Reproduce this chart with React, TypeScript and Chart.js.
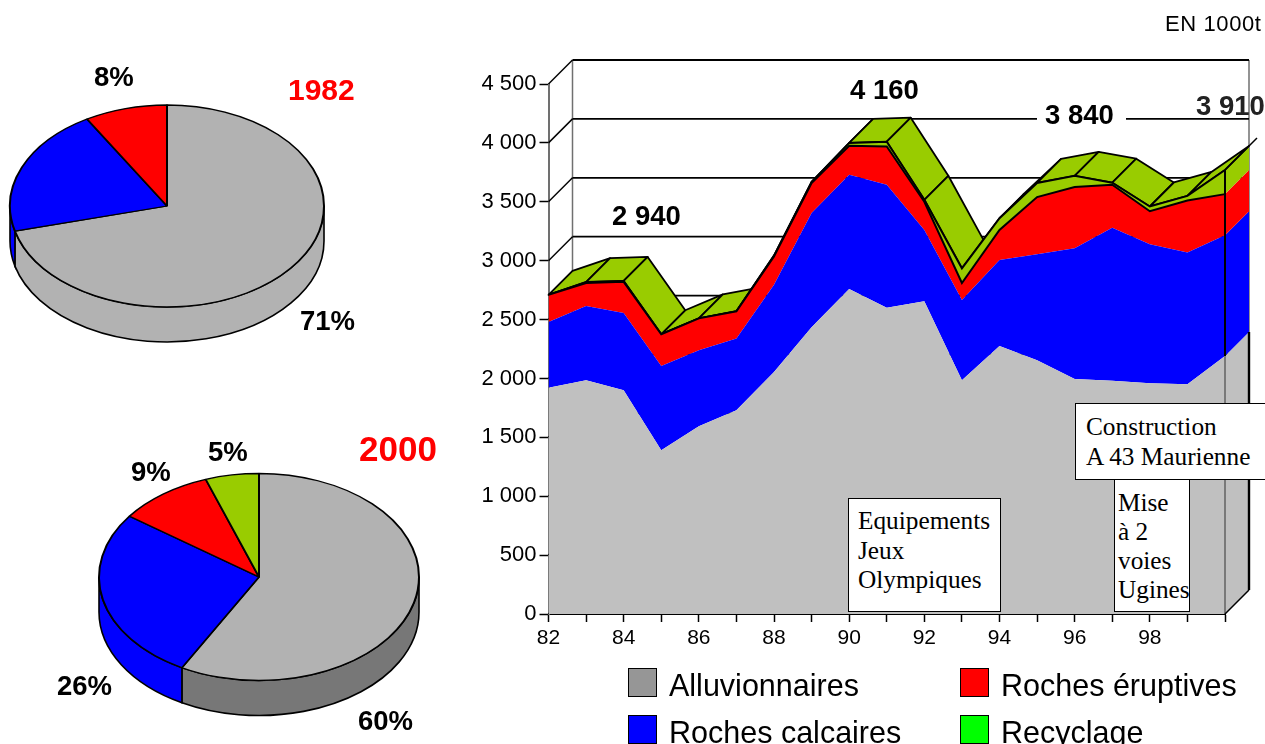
import React, { useEffect, useRef } from "react";
import { Chart, registerables } from "chart.js";

Chart.register(...registerables);

const years = ["82","83","84","85","86","87","88","89","90","91","92","93","94","95","96","97","98","99","100"];
const alluvionnaires = [1920,1985,1900,1390,1595,1730,2055,2435,2760,2600,2655,1985,2275,2155,1995,1980,1960,1950,2190];
const rochesCalcaires = [560,630,655,715,645,610,740,970,970,1045,605,680,730,900,1110,1300,1180,1120,1025];
const rochesEruptives = [230,195,265,270,270,230,240,255,245,325,240,145,255,485,520,365,280,440,350];
const recyclage = [0,8,8,0,0,0,8,8,25,40,17,125,100,120,95,17,40,40,205];

const pie1982Values = [71, 20.5, 8.5];
const pie2000Values = [58, 27, 9.6, 5.4];

const GRAY_AREA = "#c0c0c0";
const BLUE = "#0000ff";
const RED = "#ff0000";
const OLIVE = "#99cc00";
const PIE_GRAY = "#b2b2b2";
const SANS = '"Liberation Sans", Arial, sans-serif';
const SERIF = '"Liberation Serif", "Times New Roman", serif';
const DEPTH = 24;

type PieProps = { values: number[]; colors: string[]; sides: string[]; rx: number; ry: number; depth: number; left: number; top: number; size: number };

function Pie3D({ values, colors, sides, rx, ry, depth, left, top, size }: PieProps) {
  const ref = useRef<HTMLCanvasElement>(null);
  useEffect(() => {
    const squash = {
      id: "squash",
      beforeDatasetsDraw(chart: any) {
        const ctx = chart.ctx;
        const arcs = chart.getDatasetMeta(0).data;
        const cx = arcs[0].x;
        const cy = arcs[0].y;
        ctx.save();
        ctx.lineWidth = 1.6;
        ctx.strokeStyle = "#000";
        arcs.forEach((arc: any, i: number) => {
          for (const k of [-2, 0, 2]) {
            const a = Math.max(arc.startAngle, k * Math.PI);
            const b = Math.min(arc.endAngle, k * Math.PI + Math.PI);
            if (b <= a) continue;
            ctx.beginPath();
            ctx.ellipse(cx, cy, rx, ry, 0, a, b);
            ctx.ellipse(cx, cy + depth, rx, ry, 0, b, a, true);
            ctx.closePath();
            ctx.fillStyle = sides[i];
            ctx.fill();
            ctx.stroke();
          }
        });
        ctx.restore();
        ctx.save();
        ctx.translate(cx, cy);
        ctx.scale(1, ry / rx);
        ctx.translate(-cx, -cy);
      },
      afterDatasetsDraw(chart: any) {
        chart.ctx.restore();
      },
    };
    const chart = new Chart(ref.current as HTMLCanvasElement, {
      type: "pie",
      data: { labels: colors.map((_, i) => String(i)), datasets: [{ data: values, backgroundColor: colors, borderColor: "#000", borderWidth: 2 }] },
      options: {
        animation: false,
        responsive: false,
        radius: rx,
        layout: { padding: 0 },
        plugins: { legend: { display: false }, tooltip: { enabled: false } },
      } as any,
      plugins: [squash],
    });
    return () => chart.destroy();
  }, []);
  return <canvas ref={ref} width={size} height={size} style={{ position: "absolute", left, top, width: size, height: size }} />;
}

function AreaChart() {
  const ref = useRef<HTMLCanvasElement>(null);
  useEffect(() => {
    const cumulative = (i: number, layers: number) =>
      [alluvionnaires, rochesCalcaires, rochesEruptives, recyclage].slice(0, layers).reduce((s, a) => s + a[i], 0);

    const depthPlugin = {
      id: "depth",
      beforeDatasetsDraw(chart: any) {
        const ctx = chart.ctx;
        const x = chart.scales.x;
        const y = chart.scales.y;
        const x0 = x.getPixelForValue(0);
        const last = years.length - 1;
        const x1 = x.getPixelForValue(last);
        const yTop = y.getPixelForValue(4500);
        const yBase = y.getPixelForValue(0);
        ctx.save();
        ctx.lineCap = "butt";
        // back wall frame
        ctx.strokeStyle = "#707070";
        ctx.lineWidth = 1.5;
        ctx.beginPath();
        ctx.moveTo(x0 + DEPTH, yTop - DEPTH);
        ctx.lineTo(x0 + DEPTH, yBase - DEPTH);
        ctx.moveTo(x1 + DEPTH, yTop - DEPTH);
        ctx.lineTo(x1 + DEPTH, yBase - DEPTH);
        ctx.stroke();
        // gridlines, side wall and back wall
        ctx.strokeStyle = "#000";
        for (const tick of y.ticks) {
          const py = y.getPixelForValue(tick.value);
          ctx.lineWidth = 1.5;
          ctx.beginPath();
          ctx.moveTo(x0, py);
          ctx.lineTo(x0 + DEPTH, py - DEPTH);
          ctx.stroke();
          if (tick.value > 0) {
            ctx.lineWidth = tick.value === 4500 ? 2.2 : 1.8;
            ctx.beginPath();
            ctx.moveTo(x0 + DEPTH, py - DEPTH);
            ctx.lineTo(x1 + DEPTH, py - DEPTH);
            ctx.stroke();
          }
        }
        // right hand side of the stack
        const sideColors = [GRAY_AREA, BLUE, RED, OLIVE];
        sideColors.forEach((color, k) => {
          const lo = y.getPixelForValue(cumulative(last, k));
          const hi = y.getPixelForValue(cumulative(last, k + 1));
          ctx.beginPath();
          ctx.moveTo(x1, lo);
          ctx.lineTo(x1 + DEPTH, lo - DEPTH);
          ctx.lineTo(x1 + DEPTH, hi - DEPTH);
          ctx.lineTo(x1, hi);
          ctx.closePath();
          ctx.fillStyle = color;
          ctx.fill();
        });
        // upper faces of the recycling layer
        ctx.lineJoin = "round";
        ctx.lineWidth = 1.8;
        ctx.fillStyle = OLIVE;
        for (let i = 0; i < last; i++) {
          const ax = x.getPixelForValue(i);
          const bx = x.getPixelForValue(i + 1);
          const ay = y.getPixelForValue(cumulative(i, 4));
          const by = y.getPixelForValue(cumulative(i + 1, 4));
          ctx.beginPath();
          ctx.moveTo(ax, ay);
          ctx.lineTo(bx, by);
          ctx.lineTo(bx + DEPTH, by - DEPTH);
          ctx.lineTo(ax + DEPTH, ay - DEPTH);
          ctx.closePath();
          ctx.fill();
          ctx.stroke();
        }
        ctx.restore();
      },
      afterDatasetsDraw(chart: any) {
        const ctx = chart.ctx;
        const x = chart.scales.x;
        const y = chart.scales.y;
        const last = years.length - 1;
        const x1 = x.getPixelForValue(last);
        const yBase = y.getPixelForValue(0);
        const topY = y.getPixelForValue(cumulative(last, 4));
        const grayY = y.getPixelForValue(cumulative(last, 1));
        ctx.save();
        ctx.strokeStyle = "#000";
        ctx.lineWidth = 2;
        ctx.beginPath();
        ctx.moveTo(x1, topY);
        ctx.lineTo(x1, grayY);
        ctx.stroke();
        ctx.lineWidth = 1;
        ctx.strokeStyle = "#333";
        ctx.beginPath();
        ctx.moveTo(x1, grayY);
        ctx.lineTo(x1, yBase);
        ctx.stroke();
        ctx.strokeStyle = "#000";
        ctx.lineWidth = 1.5;
        ctx.beginPath();
        ctx.moveTo(x1, topY);
        ctx.lineTo(x1 + DEPTH + 8, topY - DEPTH - 8);
        ctx.moveTo(x1, yBase);
        ctx.lineTo(x1 + DEPTH, yBase - DEPTH);
        ctx.stroke();
        ctx.lineWidth = 2.4;
        ctx.beginPath();
        ctx.moveTo(x1 + DEPTH, grayY - DEPTH);
        ctx.lineTo(x1 + DEPTH, yBase - DEPTH);
        ctx.stroke();
        ctx.restore();
      },
    };

    const base = { pointRadius: 0, tension: 0, clip: false as any };
    const chart = new Chart(ref.current as HTMLCanvasElement, {
      type: "line",
      data: {
        labels: years,
        datasets: [
          { ...base, label: "Alluvionnaires", data: alluvionnaires, backgroundColor: GRAY_AREA, borderWidth: 0, fill: "origin" },
          { ...base, label: "Roches calcaires", data: rochesCalcaires, backgroundColor: BLUE, borderWidth: 0, fill: "-1" },
          { ...base, label: "Roches éruptives", data: rochesEruptives, backgroundColor: RED, borderColor: "#000", borderWidth: 2, fill: "-1" },
          { ...base, label: "Recyclage", data: recyclage, backgroundColor: OLIVE, borderColor: "#000", borderWidth: 2, fill: "-1" },
        ],
      },
      options: {
        animation: false,
        responsive: false,
        layout: { padding: { left: 0, right: 40, top: 84, bottom: 0 } },
        plugins: { legend: { display: false }, tooltip: { enabled: false } },
        scales: {
          x: {
            type: "category",
            offset: false,
            afterFit: (s: any) => { s.height = 130; },
            grid: { drawOnChartArea: false, tickLength: 8, tickColor: "#000", tickWidth: 1.5 },
            border: { color: "#000", width: 2 },
            ticks: {
              autoSkip: false,
              maxRotation: 0,
              padding: 4,
              color: "#000",
              font: { family: SANS, size: 21 },
              callback: (_: any, i: number) => (i % 2 === 0 && i < 18 ? years[i] : ""),
            },
          },
          y: {
            stacked: true,
            min: 0,
            max: 4500,
            afterFit: (s: any) => { s.width = 78.5; },
            grid: { drawOnChartArea: false, tickLength: 9, tickColor: "#000", tickWidth: 1.5 },
            border: { color: "#707070", width: 2 },
            ticks: {
              stepSize: 500,
              padding: 3,
              color: "#000",
              font: { family: SANS, size: 22 },
              callback: (v: any) => (v >= 1000 ? `${Math.floor(v / 1000)}\u00a0${String(v % 1000).padStart(3, "0")}` : String(v)),
            },
          },
        },
      } as any,
      plugins: [depthPlugin],
    });
    return () => chart.destroy();
  }, []);
  return <canvas ref={ref} width={795} height={744} style={{ position: "absolute", left: 470, top: 0, width: 795, height: 744 }} />;
}

const boldLabels = [
  { text: "8%", x: 94, y: 77, size: 27.5 },
  { text: "71%", x: 300, y: 321, size: 27.5 },
  { text: "5%", x: 208, y: 452, size: 27.5 },
  { text: "9%", x: 131, y: 472, size: 27.5 },
  { text: "26%", x: 57, y: 686, size: 27.5 },
  { text: "60%", x: 358, y: 721, size: 27.5 },
  { text: "2 940", x: 612, y: 216, size: 27.5 },
  { text: "4 160", x: 850, y: 90, size: 27.5 },
  { text: "3 840", x: 1045, y: 115, size: 27.5, mask: true },
  { text: "3 910", x: 1196, y: 106, size: 27.5, color: "#222" },
  { text: "1982", x: 288, y: 90, size: 30, color: RED },
  { text: "2000", x: 359, y: 449, size: 35, color: RED },
];

const legendItems = [
  { label: "Alluvionnaires", color: "#969696", x: 628, y: 668 },
  { label: "Roches éruptives", color: RED, x: 960, y: 668 },
  { label: "Roches calcaires", color: BLUE, x: 628, y: 715 },
  { label: "Recyclage", color: "#00ff00", x: 960, y: 715 },
];

const notes = [
  { lines: ["Equipements", "Jeux", "Olympiques"], left: 848, top: 498, width: 153, height: 114, pad: 9, pitch: 29.5, first: 7 },
  { lines: ["Mise", "à 2", "voies", "Ugines"], left: 1114, top: 479, width: 76, height: 133, pad: 3, pitch: 29, first: 8 },
  { lines: ["Construction", "A 43 Maurienne"], left: 1075, top: 403, width: 192, height: 77, pad: 10, pitch: 30, first: 7 },
];

export default function App() {
  return (
    <div style={{ position: "absolute", left: 0, top: 0, width: 1265, height: 744, overflow: "hidden", background: "#fff" }}>
      <Pie3D values={pie1982Values} colors={[PIE_GRAY, BLUE, RED]} sides={[PIE_GRAY, BLUE, RED]} rx={157} ry={101} depth={35} left={2} top={41} size={330} />
      <Pie3D values={pie2000Values} colors={[PIE_GRAY, BLUE, RED, OLIVE]} sides={["#777777", BLUE, RED, OLIVE]} rx={160} ry={103.5} depth={35} left={94} top={412} size={330} />
      <AreaChart />
      {notes.map((n) => (
        <div key={n.lines[0]} style={{ position: "absolute", left: n.left, top: n.top, width: n.width, height: n.height, boxSizing: "border-box", background: "#fff", border: "1.5px solid #000", fontFamily: SERIF, fontSize: 25.3, color: "#000", paddingLeft: n.pad, paddingTop: n.first, lineHeight: `${n.pitch}px`, whiteSpace: "nowrap" }}>
          {n.lines.map((l) => <div key={l}>{l}</div>)}
        </div>
      ))}
      {boldLabels.map((l) => (
        <div key={l.text} style={{ position: "absolute", left: l.x, top: l.y - 20, height: 40, lineHeight: "40px", fontFamily: SANS, fontWeight: 700, fontSize: l.size, color: l.color || "#000", background: l.mask ? "#fff" : "transparent", padding: 0, boxShadow: l.mask ? "-8px 0 0 #fff, 12px 0 0 #fff" : "none", whiteSpace: "pre" }}>
          {l.text}
        </div>
      ))}
      <div style={{ position: "absolute", left: 1165, top: 12, lineHeight: "24px", fontFamily: SANS, fontSize: 22, letterSpacing: 0.6, color: "#000", whiteSpace: "nowrap" }}>EN 1000t</div>
      {legendItems.map((l) => (
        <React.Fragment key={l.label}>
          <div style={{ position: "absolute", left: l.x, top: l.y, width: 29, height: 29, boxSizing: "border-box", background: l.color, border: "1.5px solid #000" }} />
          <div style={{ position: "absolute", left: l.x + 41, top: l.y - 1, height: 36, lineHeight: "36px", fontFamily: SANS, fontSize: 30.5, color: "#000", whiteSpace: "nowrap" }}>{l.label}</div>
        </React.Fragment>
      ))}
    </div>
  );
}
